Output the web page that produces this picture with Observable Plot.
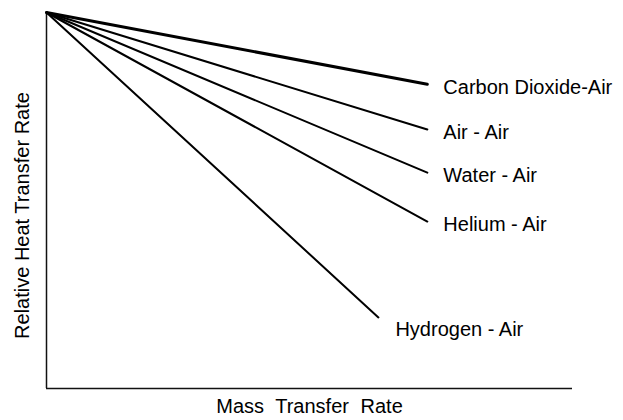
<!DOCTYPE html>
<html>
<head>
<meta charset="utf-8">
<script src="https://cdn.jsdelivr.net/npm/d3@7"></script>
<script src="https://cdn.jsdelivr.net/npm/@observablehq/plot@0.6"></script>
<style>
  html, body { margin: 0; padding: 0; background: #fff; }
  svg { display: block; }
</style>
</head>
<body>
<div id="chart"></div>
<script>
// Gas pairs (injected gas - free stream) and where each line ends
const gases = ["Carbon Dioxide-Air", "Air - Air", "Water - Air", "Helium - Air", "Hydrogen - Air"];
const startX = 0;       // mass transfer rate at origin
const startY = 1;       // relative heat transfer rate at origin
const endX = [0.724, 0.724, 0.724, 0.724, 0.631];
const endY = [0.809, 0.689, 0.574, 0.444, 0.189];
const xLabel = "Mass Transfer Rate";
const yLabel = "Relative Heat Transfer Rate";

const lines = gases.flatMap((g, i) => [
  {gas: g, x: startX, y: startY},
  {gas: g, x: endX[i], y: endY[i]}
]);
const ends = gases.map((g, i) => ({gas: g, x: endX[i], y: endY[i]}));

const font = "'Liberation Sans', Arial, sans-serif";

const chart = Plot.plot({
  width: 623,
  height: 420,
  marginLeft: 46,
  marginRight: 51,
  marginTop: 12,
  marginBottom: 32,
  x: {domain: [0, 1], axis: null},
  y: {domain: [0, 1], axis: null},
  style: {background: "#fff", fontFamily: font},
  marks: [
    Plot.ruleX([0], {stroke: "#111", strokeWidth: 1.5}),
    Plot.ruleY([0], {stroke: "#111", strokeWidth: 1.5}),
    Plot.line(lines, {x: "x", y: "y", z: "gas", stroke: "#000", strokeWidth: 2,
      filter: d => d.gas !== "Carbon Dioxide-Air"}),
    Plot.line(lines, {x: "x", y: "y", z: "gas", stroke: "#000", strokeWidth: 3,
      filter: d => d.gas === "Carbon Dioxide-Air"}),
    Plot.text(ends, {x: "x", y: "y", text: "gas", textAnchor: "start", dx: 16, dy: 3,
      fontSize: 20, fill: "#000", filter: d => d.gas !== "Hydrogen - Air"}),
    Plot.text(ends, {x: "x", y: "y", text: "gas", textAnchor: "start", dx: 17, dy: 12,
      fontSize: 20, fill: "#000", filter: d => d.gas === "Hydrogen - Air"}),
    Plot.text([xLabel], {frameAnchor: "bottom", dy: 18, fontSize: 20, fill: "#000",
      textAnchor: "middle", lineAnchor: "middle", wordSpacing: "6px"}),
    Plot.text([yLabel], {frameAnchor: "left", dx: -24, dy: 15, rotate: -90, fontSize: 20,
      fill: "#000", textAnchor: "middle", lineAnchor: "middle"})
  ]
});
chart.querySelectorAll("text").forEach(t => {
  if (t.textContent === xLabel) t.style.wordSpacing = "6px";
});
document.getElementById("chart").appendChild(chart);
</script>
</body>
</html>
